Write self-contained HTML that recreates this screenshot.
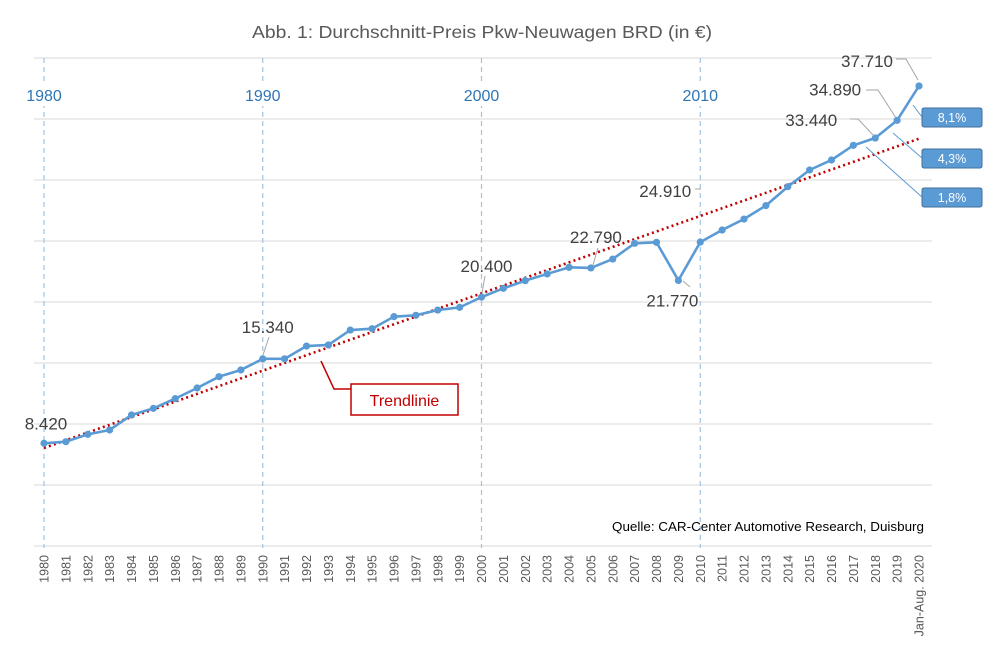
<!DOCTYPE html>
<html><head><meta charset="utf-8"><style>
html,body{margin:0;padding:0;background:#fff;width:1000px;height:646px;overflow:hidden}
svg{display:block;font-family:"Liberation Sans",sans-serif}
</style></head><body>
<svg id="chart" width="1000" height="646" viewBox="0 0 1000 646">
<text x="482" y="38" text-anchor="middle" font-size="17.5" fill="#595959" textLength="460" lengthAdjust="spacingAndGlyphs">Abb. 1: Durchschnitt-Preis Pkw-Neuwagen BRD (in €)</text>
<g id="grid"></g>
<g id="decades"></g>
<g id="xticks"></g>
<polyline id="trend" fill="none" stroke="#c00000" stroke-width="2.6" stroke-dasharray="2 3.2"/>
<polyline id="series" fill="none" stroke="#5b9bd5" stroke-width="2.6" stroke-linejoin="round"/>
<g id="points"></g>
<g id="labels" font-size="17" fill="#404040"></g>
<g>
<polyline points="321,361 334,389 351,389" fill="none" stroke="#c00000" stroke-width="1.5"/>
<rect x="351" y="384" width="107" height="31" fill="#fff" stroke="#c00000" stroke-width="1.5"/>
<text x="404.5" y="406" text-anchor="middle" font-size="16" fill="#c00000">Trendlinie</text>
</g>
<g id="pct"></g>
<text x="924" y="531" text-anchor="end" font-size="12.5" fill="#000" textLength="312" lengthAdjust="spacingAndGlyphs">Quelle: CAR-Center Automotive Research, Duisburg</text>
</svg>
<script>
const years = ["1980","1981","1982","1983","1984","1985","1986","1987","1988","1989","1990","1991","1992","1993","1994","1995","1996","1997","1998","1999","2000","2001","2002","2003","2004","2005","2006","2007","2008","2009","2010","2011","2012","2013","2014","2015","2016","2017","2018","2019","Jan-Aug. 2020"];
const prices = [8420,8550,9150,9510,10740,11280,12080,12950,13880,14430,15340,15340,16390,16480,17700,17810,18800,18910,19340,19560,20400,21120,21750,22300,22840,22790,23520,24810,24890,21770,24910,25900,26800,27900,29450,30820,31640,32840,33440,34890,37710];
const gridValues = [0,5000,10000,15000,20000,25000,30000,35000,40000];
const decadeIdx = [0,10,20,30];
const labeledIdx = [0,10,20,25,29,30,38,39,40];
const labelText = ["8.420","15.340","20.400","22.790","21.770","24.910","33.440","34.890","37.710"];
const pctTexts = ["8,1%","4,3%","1,8%"];

const NS="http://www.w3.org/2000/svg";
const x = i => 44 + i*21.875;
const y = v => 546 - v*0.0122;
function mk(tag, attrs, parent){const e=document.createElementNS(NS,tag);for(const k in attrs)e.setAttribute(k,attrs[k]);parent.appendChild(e);return e;}

const grid=document.getElementById('grid');
gridValues.forEach(v=>{
  const l=mk('line',{x1:34,x2:932,y1:y(v),y2:y(v),stroke:'#d9d9d9','stroke-width':1},grid);
  
  
});
const dec=document.getElementById('decades');
decadeIdx.forEach(i=>{
  const l=mk('line',{x1:x(i),x2:x(i),y1:58,y2:548,stroke:'#9dc3e6','stroke-width':1.2,'stroke-dasharray':'5 4'},dec);
  
  
  mk('rect',{x:x(i)-24,y:82,width:48,height:24,fill:'#fff'},dec);
  const t=mk('text',{x:x(i),y:101,'text-anchor':'middle','font-size':16,fill:'#2e75b6'},dec);
  t.textContent=years[i];
  
  
});
const xt=document.getElementById('xticks');
years.forEach((yr,i)=>{
  const t=mk('text',{transform:`translate(${x(i)+4.5},555) rotate(-90)`,'text-anchor':'end','font-size':12.5,fill:'#595959'},xt);
  t.textContent=yr;
  
  
});
document.getElementById('series').setAttribute('points',prices.map((v,i)=>x(i)+','+y(v)).join(' '));
const pts=document.getElementById('points');
prices.forEach((v,i)=>{
  const c=mk('circle',{cx:x(i),cy:y(v),r:3.6,fill:'#5b9bd5'},pts);
  
  
});
const n=prices.length;let sx=0,sy=0,sxy=0,sxx=0;
prices.forEach((v,i)=>{sx+=i;sy+=v;sxy+=i*v;sxx+=i*i;});
const b=(n*sxy-sx*sy)/(n*sxx-sx*sx),a=(sy-b*sx)/n;
document.getElementById('trend').setAttribute('points',`${x(0)},${y(a)} ${x(n-1)},${y(a+b*(n-1))}`);

const offs=[[2,-14],[5,-26],[5,-25],[5,-25],[-6,26],[-35,-45],[-64,-12],[-62,-25],[-52,-19]];
const lab=document.getElementById('labels');
labeledIdx.forEach((i,k)=>{
  const px=x(i),py=y(prices[i]);
  const t=mk('text',{x:px+offs[k][0],y:py+offs[k][1],'text-anchor':'middle'},lab);
  t.textContent=labelText[k];
  
  
});
const leaders=[[269,337,263,355],[485,276,482,293],[598,248,593,265],[690,287,683,281],[695,189,701,189],[850,119,858,119,874,136],[866,90,878,90,896,118],[896,59,906,59,918,80]];
leaders.forEach(p=>{
  const pts2=[];for(let j=0;j<p.length;j+=2)pts2.push(p[j]+','+p[j+1]);
  const l=mk('polyline',{points:pts2.join(' '),fill:'none',stroke:'#a6a6a6','stroke-width':1},lab);
  
  
});
const pct=document.getElementById('pct');
const boxY=[108,149,188];
const pctLead=[[913,105],[893,133],[866,147]];
pctTexts.forEach((s,k)=>{
  mk('line',{x1:pctLead[k][0],y1:pctLead[k][1],x2:922,y2:boxY[k]+9,stroke:'#5b9bd5','stroke-width':1},pct);
  const r=mk('rect',{x:922,y:boxY[k],width:60,height:19,rx:2,fill:'#5b9bd5',stroke:'#41719c','stroke-width':1},pct);
  
  
  const t=mk('text',{x:952,y:boxY[k]+14,'text-anchor':'middle','font-size':12.5,fill:'#fff'},pct);
  t.textContent=s;
  
  
});
</script>
</body></html>
